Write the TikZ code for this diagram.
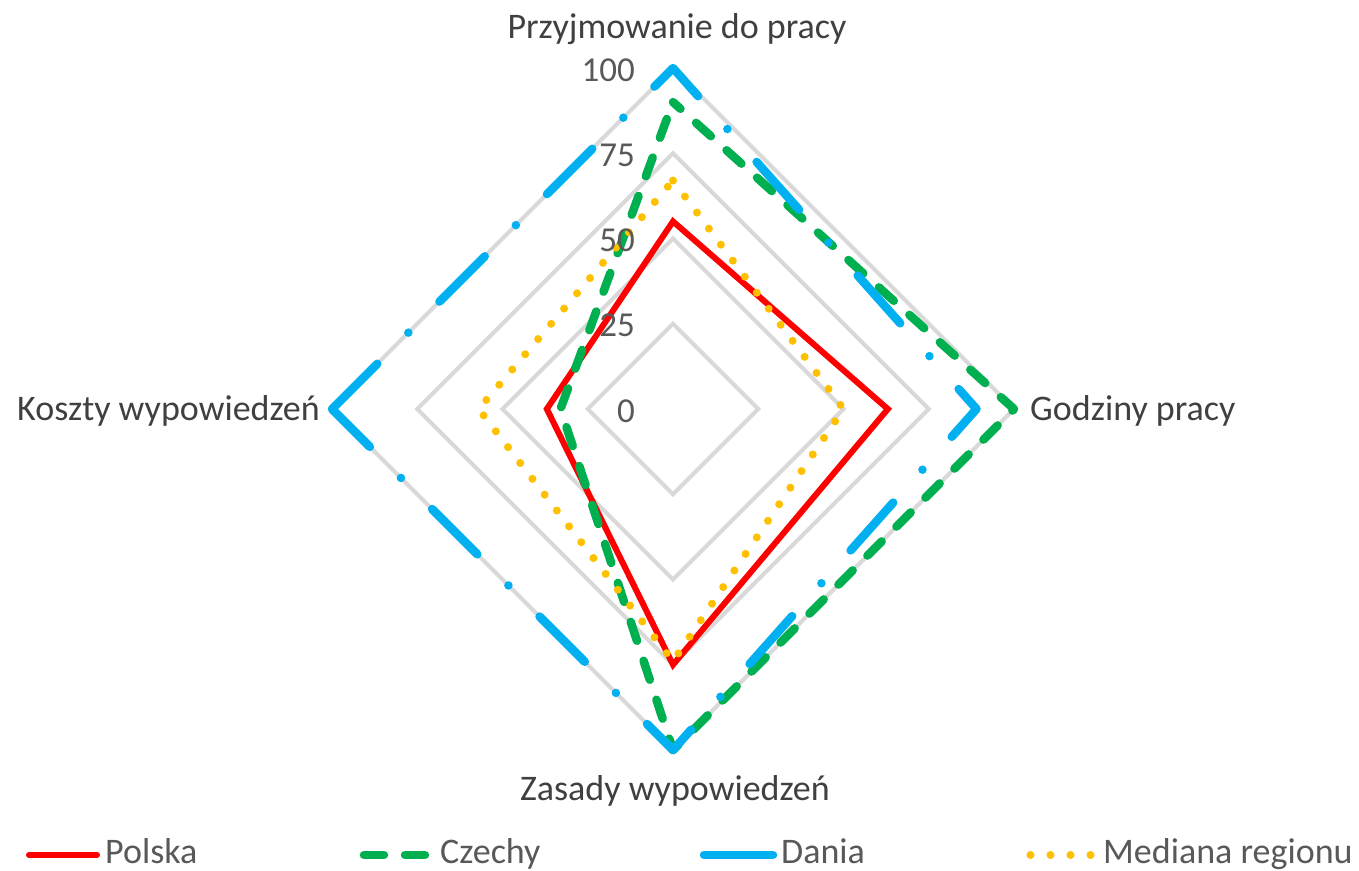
\documentclass[tikz,border=0pt]{standalone}
\usepackage{fontspec}
\setmainfont{Carlito}
\definecolor{cRed}{HTML}{FF0000}
\definecolor{cGreen}{HTML}{00B050}
\definecolor{cBlue}{HTML}{00B0F0}
\definecolor{cYellow}{HTML}{FFC000}
\definecolor{gridgrey}{HTML}{D9D9D9}
\definecolor{textdark}{HTML}{404040}
\definecolor{textgrey}{HTML}{595959}
\begin{document}
\begin{tikzpicture}[x=1pt,y=-1pt,
  gridring/.style={draw=gridgrey, line width=4pt, line join=miter},
  polska/.style={draw=cRed, line width=6pt, line join=miter},
  czechy/.style={draw=cGreen, line width=8.5pt, line cap=round, line join=round, dash pattern=on 20pt off 21pt},
  dania/.style={draw=cBlue, line width=8.5pt, line cap=round, line join=round, dash pattern=on 64pt off 44pt on 0pt off 44pt},
  daniasolid/.style={draw=cBlue, line width=8.5pt, line cap=round},
  mediana/.style={draw=cYellow, line width=8pt, line cap=round, dash pattern=on 0pt off 20pt},
  catlabel/.style={text=textdark, font=\fontsize{36}{43}\selectfont, inner sep=0pt},
  ticklabel/.style={text=textgrey, font=\fontsize{35}{42}\selectfont, inner sep=0pt, anchor=east},
  legtext/.style={text=textgrey, font=\fontsize{36}{43}\selectfont, inner sep=0pt, anchor=base west}]
\useasboundingbox (0,0) rectangle (1359,870);
\fill[white] (0,0) rectangle (1359,870);

\begin{scope}[shift={(673,409)}, x=3.41pt, y=-3.41pt]
  \foreach \v in {25,50,75,100}
    \draw[gridring] (0,-\v) -- (\v,0) -- (0,\v) -- (-\v,0) -- cycle;
  \draw[polska] (0,-55) -- (63,0) -- (0,75) -- (-37,0) -- cycle;
  \draw[czechy, dash phase=10pt] (0,-90) -- (100,0) -- (0,100) -- (-33,0) -- cycle;
  \draw[dania] (-100,0) -- (0,-100) -- (89,0) -- (0,100) -- cycle;
  \draw[mediana] (0,-67) -- (50,0) -- (0,74) -- (-57,0) -- cycle;
\end{scope}

\foreach \v in {0,25,50,75,100}
  \node[ticklabel] (tick\v) at (635,{411-3.41*\v}) {\v};

\node[catlabel, anchor=base] (lblTop) at (677,38) {Przyjmowanie do pracy};
\node[catlabel, anchor=base west] (lblRight) at (1030,420.5) {Godziny pracy};
\node[catlabel, anchor=base east] (lblLeft) at (320,420.5) {Koszty wypowiedzeń};
\node[catlabel, anchor=base] (lblBottom) at (675,800) {Zasady wypowiedzeń};

\coordinate (lpA) at (29,855);  \coordinate (lpB) at (97,855);
\coordinate (lcA) at (364,855); \coordinate (lcB) at (426,855);
\coordinate (ldA) at (704,855); \coordinate (ldB) at (773,855);
\coordinate (lmA) at (1030.5,855); \coordinate (lmB) at (1091,855);
\draw[polska, line cap=round] (lpA) -- (lpB);
\draw[czechy] (lcA) -- (lcB);
\draw[daniasolid] (ldA) -- (ldB);
\draw[mediana] (lmA) -- (lmB);
\node[legtext] (tPolska) at (105,863) {Polska};
\node[legtext] (tCzechy) at (440,863) {Czechy};
\node[legtext] (tDania) at (781,863) {Dania};
\node[legtext] (tMediana) at (1103,863) {Mediana regionu};
\end{tikzpicture}
\end{document}
